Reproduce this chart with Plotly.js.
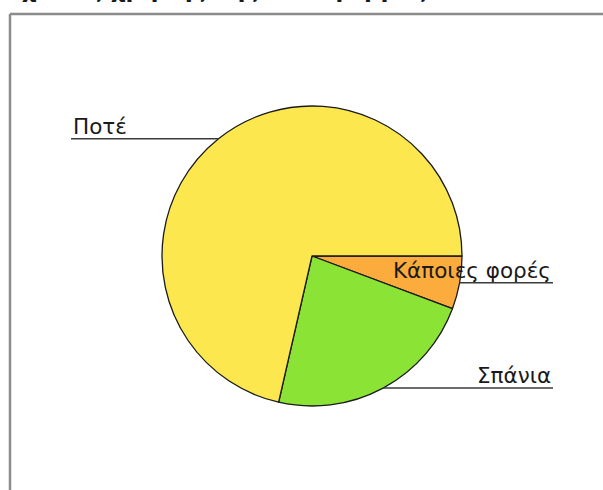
<!DOCTYPE html>
<html>
<head>
<meta charset="utf-8">
<script src="https://cdn.plot.ly/plotly-3.0.1.min.js"></script>
<style>html,body{margin:0;padding:0;background:#fff;}#chart{width:603px;height:490px;}</style>
</head>
<body>
<div id="chart"></div>
<script>
// ---- data ----
const labels = ['Κάποιες φορές', 'Σπάνια', 'Ποτέ'];
const values = [2, 8, 25];
const chartTitle = 'Σχέσεις χρήσης της πλατφόρμας';

// ---- styling ----
const sliceColors = ['#FBAC3D', '#8BE336', '#FCE74F'];
const W = 603, H = 490;
const FONT = 'DejaVu Sans, Verdana, sans-serif';

// pie placement (paper domain)
const pieCx = 312, pieCy = 256, pieR = 150;
const domX = [(pieCx - pieR) / W, (pieCx + pieR) / W];
const domY = [(H - pieCy - pieR) / H, (H - pieCy + pieR) / H];

const trace = {
  type: 'pie',
  labels: labels,
  values: values,
  sort: false,
  direction: 'clockwise',
  rotation: 90,
  textinfo: 'none',
  hoverinfo: 'label+value+percent',
  marker: { colors: sliceColors, line: { color: '#1a1a1a', width: 1.3 } },
  domain: { x: domX, y: domY }
};

// leader lines and labels derived from the data
const total = values.reduce((a, b) => a + b, 0);
const shapes = [];
const annotations = [];
let cum = 0;
const reach = 241;
values.forEach((v, i) => {
  const mid = (cum + v / 2) / total * 2 * Math.PI; // clockwise from 3 o'clock
  cum += v;
  const px = pieCx + pieR * Math.cos(mid);
  const py = pieCy + pieR * Math.sin(mid);
  const right = px >= pieCx;
  const ex = right ? pieCx + reach : pieCx - reach;
  shapes.push({
    type: 'line', xref: 'paper', yref: 'paper',
    x0: px / W, x1: ex / W, y0: 1 - py / H, y1: 1 - py / H,
    line: { color: '#3a3a3a', width: 1.5 }
  });
  annotations.push({
    xref: 'paper', yref: 'paper',
    x: (right ? ex - 1 : ex + 1) / W,
    y: 1 - py / H,
    xanchor: right ? 'right' : 'left',
    yanchor: 'bottom',
    yshift: -1,
    showarrow: false,
    borderpad: 0,
    text: labels[i],
    font: { family: FONT, size: 21.5, color: '#1a1a1a' }
  });
});

// title (cropped at the top edge, as in the reference)
annotations.push({
  xref: 'paper', yref: 'paper', x: 5 / W, y: 1 - 3.5 / H,
  xanchor: 'left', yanchor: 'bottom', showarrow: false, borderpad: 0,
  text: '<b>' + chartTitle + '</b>',
  font: { family: FONT, size: 23, color: '#1a1a1a' }
});

// frame
shapes.push({ type: 'line', xref: 'paper', yref: 'paper', x0: 10 / W, x1: 1.02, y0: 1 - 14 / H, y1: 1 - 14 / H, line: { color: '#8c8c8c', width: 2.5 } });
shapes.push({ type: 'line', xref: 'paper', yref: 'paper', x0: 10 / W, x1: 10 / W, y0: 1 - 14 / H, y1: -0.02, line: { color: '#8c8c8c', width: 2.5 } });

const layout = {
  width: W, height: H,
  margin: { l: 0, r: 0, t: 0, b: 0 },
  paper_bgcolor: '#ffffff',
  showlegend: false,
  shapes: shapes,
  annotations: annotations
};

Plotly.newPlot('chart', [trace], layout, { displayModeBar: false, staticPlot: true });
</script>
</body>
</html>
